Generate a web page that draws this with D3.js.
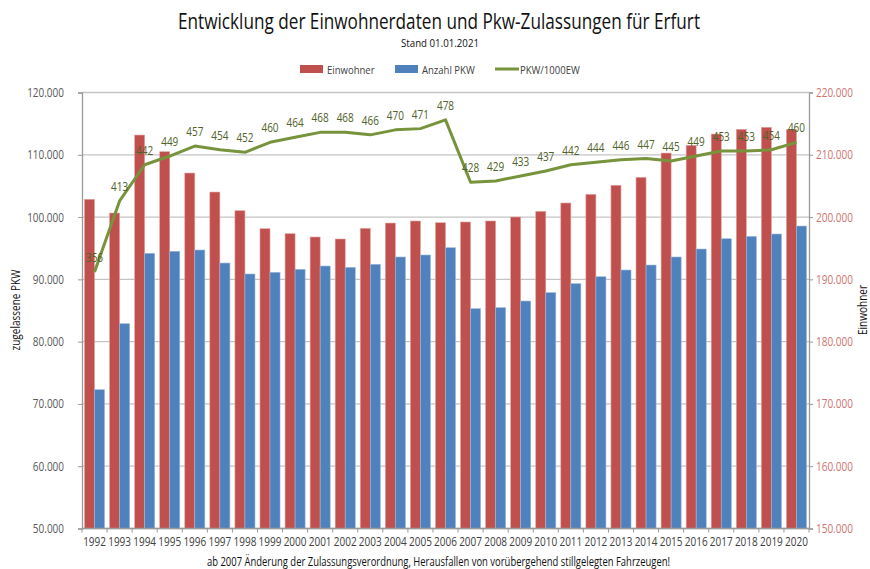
<!DOCTYPE html>
<html>
<head>
<meta charset="utf-8">
<script src="https://cdn.jsdelivr.net/npm/d3@7"></script>
<style>
  body { margin: 0; background: #fff; }
  svg text { font-family: "Open Sans", "Noto Sans", sans-serif; }
</style>
</head>
<body>
<div id="chart"></div>
<script>
// data
let years = ["1992","1993","1994","1995","1996","1997","1998","1999","2000","2001",
  "2002","2003","2004","2005","2006","2007","2008","2009","2010","2011",
  "2012","2013","2014","2015","2016","2017","2018","2019","2020"];

// Einwohner (right axis)
let einwohner = [202850, 200650, 213170, 210490, 207070, 204020, 201020, 198130, 197330, 196800,
  196480, 198190, 199040, 199370, 199090, 199210, 199370, 200010, 200920, 202260,
  203650, 205100, 206380, 210280, 211520, 213330, 214090, 214410, 214090];

// Anzahl PKW (left axis)
let pkw = [72280, 82880, 94180, 94500, 94710, 92620, 90860, 91130, 91610, 92140,
  91930, 92410, 93590, 93910, 95080, 85290, 85450, 86520, 87860, 89300,
  90420, 91500, 92300, 93590, 94870, 96520, 96900, 97280, 98560];

// PKW je 1000 Einwohner
let pkwPer1000 = [356, 413, 442, 449, 457, 454, 452, 460, 464, 468,
  468, 466, 470, 471, 478, 428, 429, 433, 437, 442,
  444, 446, 447, 445, 449, 453, 453, 454, 460];

let leftTicks = [50000, 60000, 70000, 80000, 90000, 100000, 110000, 120000];
let rightTicks = [150000, 160000, 170000, 180000, 190000, 200000, 210000, 220000];

let svgWidth = 870;
let svgHeight = 569;
let margin = { top: 92.5, right: 61, bottom: 40.5, left: 82 };
let chartWidth = svgWidth - margin.left - margin.right;
let chartHeight = svgHeight - margin.top - margin.bottom;

let colEin = "#c0504d";
let colPkw = "#4f81bd";
let colLine = "#77933c";
let fmt = d3.format(",.0f");
let deFmt = (v) => fmt(v).replace(/,/g, ".");

// no condensed font installed: squeeze text horizontally around its anchor
function squeeze(sel, k) {
  sel.each(function () {
    let t = d3.select(this);
    let x = +t.attr("x") || 0;
    let y = +t.attr("y") || 0;
    t.attr("transform", `translate(${x},${y}) scale(${k},1) translate(${-x},${-y})`);
  });
}

let svg = d3.select("#chart").append("svg")
  .attr("width", svgWidth)
  .attr("height", svgHeight);

// title + subtitle
svg.append("text")
  .attr("x", 439).attr("y", 29)
  .attr("text-anchor", "middle")
  .attr("font-size", 21)
  .attr("fill", "#111")
  .attr("textLength", 522)
  .attr("lengthAdjust", "spacingAndGlyphs")
  .text("Entwicklung der Einwohnerdaten und Pkw-Zulassungen für Erfurt");

svg.append("text")
  .attr("x", 440).attr("y", 47)
  .attr("text-anchor", "middle")
  .attr("font-size", 10.5)
  .attr("fill", "#111")
  .attr("textLength", 78)
  .attr("lengthAdjust", "spacingAndGlyphs")
  .text("Stand 01.01.2021");

let chartGroup = svg.append("g")
  .attr("transform", `translate(${margin.left}, ${margin.top})`);

// scales
let x0 = d3.scaleBand().domain(years).range([0, chartWidth])
  .paddingInner(0.2).paddingOuter(0.1);
let x1 = d3.scaleBand().domain(["ein", "pkw"]).range([0, x0.bandwidth()]);
let yLeft = d3.scaleLinear().domain([50000, 120000]).range([chartHeight, 0]);
let yRight = d3.scaleLinear().domain([150000, 220000]).range([chartHeight, 0]);
let yRatio = d3.scaleLinear().domain([150, 500]).range([chartHeight, 0]);

// grid
chartGroup.append("g")
  .selectAll("line")
  .data(leftTicks)
  .enter()
  .append("line")
  .attr("x1", 0).attr("x2", chartWidth)
  .attr("y1", (d) => yLeft(d)).attr("y2", (d) => yLeft(d))
  .attr("stroke", "#c4c4c4")
  .attr("stroke-width", 1.3);

// bars
let groups = chartGroup.selectAll(".year")
  .data(years)
  .enter()
  .append("g")
  .attr("class", "year")
  .attr("transform", (d) => `translate(${x0(d)},0)`);

groups.append("rect")
  .attr("x", x1("ein"))
  .attr("width", x1.bandwidth())
  .attr("y", (d, i) => yRight(einwohner[i]))
  .attr("height", (d, i) => chartHeight - yRight(einwohner[i]))
  .attr("fill", colEin)
  .attr("stroke", "#e2a3a1")
  .attr("stroke-width", 0.6);

groups.append("rect")
  .attr("x", x1("pkw"))
  .attr("width", x1.bandwidth())
  .attr("y", (d, i) => yLeft(pkw[i]))
  .attr("height", (d, i) => chartHeight - yLeft(pkw[i]))
  .attr("fill", colPkw)
  .attr("stroke", "#9bb7da")
  .attr("stroke-width", 0.6);

// left axis
let leftAxis = d3.axisLeft(yLeft).tickValues(leftTicks).tickSize(4).tickPadding(14)
  .tickFormat(deFmt);
let gl = chartGroup.append("g").call(leftAxis);
gl.select(".domain").attr("stroke", "#9a9a9a").attr("stroke-width", 1.3);
gl.selectAll(".tick line").attr("stroke", "#9a9a9a");
gl.selectAll("text").attr("font-size", 12.5).attr("fill", "#595959")
  .style("font-family", "'Open Sans', sans-serif")
  .call(squeeze, 0.8);

// right axis
let rightAxis = d3.axisRight(yRight).tickValues(rightTicks).tickSize(4).tickPadding(3)
  .tickFormat(deFmt);
let gr = chartGroup.append("g")
  .attr("transform", `translate(${chartWidth},0)`)
  .call(rightAxis);
gr.select(".domain").attr("stroke", "#9a9a9a").attr("stroke-width", 1.3);
gr.selectAll(".tick line").attr("stroke", "#9a9a9a");
gr.selectAll("text").attr("font-size", 12.5).attr("fill", "#cd7472")
  .style("font-family", "'Open Sans', sans-serif")
  .call(squeeze, 0.8);

// bottom axis: ticks at category boundaries
let step = x0.step();
let gx = chartGroup.append("g").attr("transform", `translate(0,${chartHeight})`);
gx.append("line")
  .attr("x1", 0).attr("x2", chartWidth)
  .attr("stroke", "#9a9a9a").attr("stroke-width", 1.3);
gx.selectAll(".bt")
  .data(years.concat(["end"]))
  .enter()
  .append("line")
  .attr("x1", (d, i) => i * step).attr("x2", (d, i) => i * step)
  .attr("y1", 0).attr("y2", 4)
  .attr("stroke", "#9a9a9a");
gx.selectAll(".yl")
  .data(years)
  .enter()
  .append("text")
  .attr("x", (d) => x0(d) + x0.bandwidth() / 2)
  .attr("y", 17.5)
  .attr("text-anchor", "middle")
  .attr("font-size", 12.5)
  .attr("fill", "#404040")
  .text((d) => d)
  .call(squeeze, 0.8);

// line PKW/1000EW
let line = d3.line()
  .x((d, i) => x0(years[i]) + x0.bandwidth() / 2)
  .y((d) => yRatio(d));

chartGroup.append("path")
  .datum(pkwPer1000)
  .attr("d", line)
  .attr("fill", "none")
  .attr("stroke", colLine)
  .attr("stroke-width", 3)
  .attr("stroke-linejoin", "round");

chartGroup.selectAll(".lbl")
  .data(pkwPer1000)
  .enter()
  .append("text")
  .attr("x", (d, i) => x0(years[i]) + x0.bandwidth() / 2)
  .attr("y", (d) => yRatio(d) - 10)
  .attr("text-anchor", "middle")
  .attr("font-size", 12.5)
  .attr("fill", "#4f6228")
  .text((d) => d)
  .call(squeeze, 0.8);

// axis titles
svg.append("text")
  .attr("transform", `translate(20, 310) rotate(-90)`)
  .attr("text-anchor", "middle")
  .attr("font-size", 12.5)
  .attr("fill", "#111")
  .attr("textLength", 81)
  .attr("lengthAdjust", "spacingAndGlyphs")
  .text("zugelassene PKW");

svg.append("text")
  .attr("transform", `translate(867, 310) rotate(-90)`)
  .attr("text-anchor", "middle")
  .attr("font-size", 12)
  .attr("fill", "#111")
  .attr("textLength", 50)
  .attr("lengthAdjust", "spacingAndGlyphs")
  .text("Einwohner");

// footnote
svg.append("text")
  .attr("x", 438.5).attr("y", 566)
  .attr("text-anchor", "middle")
  .attr("font-size", 12.5)
  .attr("fill", "#111")
  .attr("textLength", 463)
  .attr("lengthAdjust", "spacingAndGlyphs")
  .text("ab 2007 Änderung der Zulassungsverordnung, Herausfallen von vorübergehend stillgelegten Fahrzeugen!");

// legend
let legend = [
  { name: "Einwohner", color: colEin, type: "rect", x: 300 },
  { name: "Anzahl PKW", color: colPkw, type: "rect", x: 395 },
  { name: "PKW/1000EW", color: colLine, type: "line", x: 495 }
];
let lg = svg.selectAll(".leg")
  .data(legend)
  .enter()
  .append("g")
  .attr("transform", (d) => `translate(${d.x}, 69)`);
lg.filter((d) => d.type === "rect").append("rect")
  .attr("x", 0).attr("y", -4).attr("width", 23).attr("height", 8)
  .attr("fill", (d) => d.color);
lg.filter((d) => d.type === "line").append("line")
  .attr("x1", 0).attr("x2", 24).attr("y1", 0).attr("y2", 0)
  .attr("stroke", (d) => d.color).attr("stroke-width", 3);
lg.append("text")
  .attr("x", (d) => d.type === "rect" ? 27 : 25)
  .attr("y", 4.5)
  .attr("font-size", 11.5)
  .attr("fill", "#404040")
  .text((d) => d.name)
  .call(squeeze, 0.83);
</script>
</body>
</html>
